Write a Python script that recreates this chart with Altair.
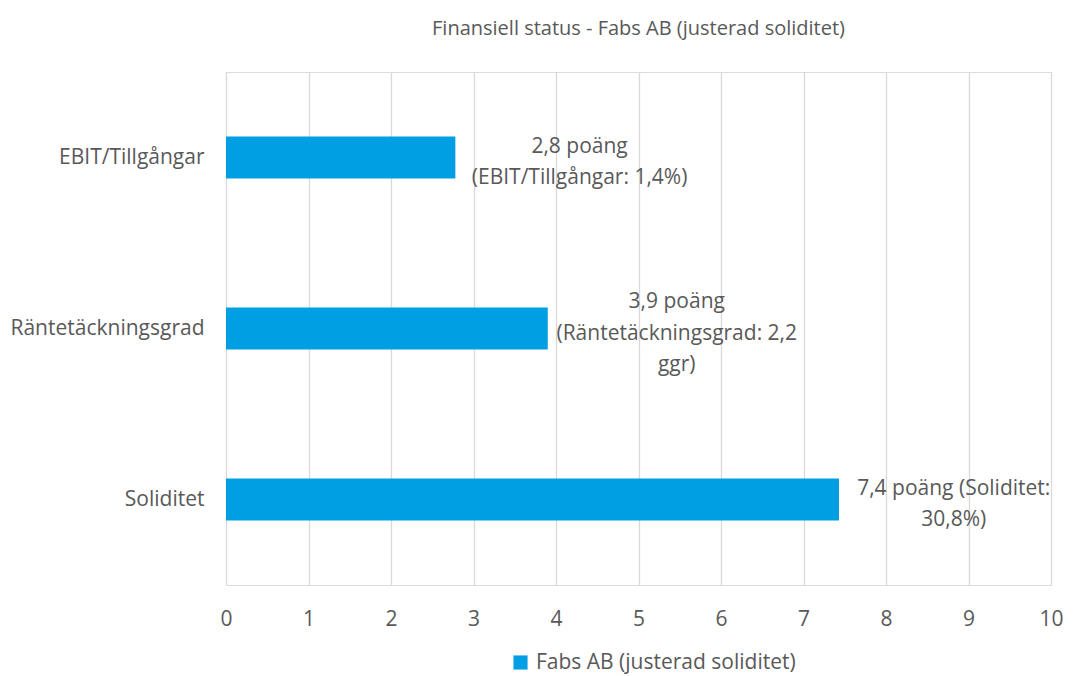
import altair as alt
import pandas as pd

categories = ["EBIT/Tillgångar", "Räntetäckningsgrad", "Soliditet"]
values = [2.78, 3.9, 7.43]
labels = [
    "2,8 poäng\n(EBIT/Tillgångar: 1,4%)",
    "3,9 poäng\n(Räntetäckningsgrad: 2,2\nggr)",
    "7,4 poäng (Soliditet:\n30,8%)",
]
series_name = "Fabs AB (justerad soliditet)"
title_text = "Finansiell status - Fabs AB (justerad soliditet)"

df = pd.DataFrame({
    "kategori": categories,
    "poang": values,
    "etikett": labels,
    "serie": [series_name] * len(categories),
    "maxlen": [max(len(s) for s in l.split("\n")) for l in labels],
    "nlines": [len(l.split("\n")) for l in labels],
})

FONT = "Open Sans"
GRAY = "#595959"
BLUE = "#009FE3"
FS = 21

y_enc = alt.Y(
    "kategori:N",
    sort=categories,
    scale=alt.Scale(paddingInner=0.754, paddingOuter=0.377),
    axis=alt.Axis(title=None, domain=False, ticks=False, tickSize=0, labelPadding=22,
                  labelFontSize=FS, labelColor=GRAY, labelFont=FONT, grid=False,
                  labelLimit=400),
)
x_enc = alt.X(
    "poang:Q",
    scale=alt.Scale(domain=[0, 10], nice=False),
    axis=alt.Axis(title=None, domain=False, ticks=False, tickSize=0, labelPadding=23,
                  values=list(range(0, 11)), format="d", labelFontSize=FS,
                  labelFlush=False, labelColor=GRAY, labelFont=FONT, grid=True,
                  gridColor="#D9D9D9", gridWidth=1.3),
)

bars = alt.Chart(df).mark_bar(color=BLUE).encode(
    x=x_enc,
    y=y_enc,
    color=alt.Color(
        "serie:N",
        scale=alt.Scale(range=[BLUE]),
        legend=alt.Legend(title=None, orient="none", legendX=284, legendY=580,
                          symbolType="square", symbolSize=200, symbolStrokeWidth=0,
                          labelFontSize=FS, labelColor=GRAY, labelFont=FONT,
                          labelOffset=5, labelLimit=500),
    ),
)

text = alt.Chart(df).mark_text(
    align="center", baseline="middle", lineBreak="\n", lineHeight=31.5,
    fontSize=FS, font=FONT, color=GRAY,
    dx=alt.expr("15 + datum.maxlen * 4.75"),
    dy=alt.expr("5 - (datum.nlines - 1) * 15.75"),
).encode(
    x="poang:Q",
    y=alt.Y("kategori:N", sort=categories),
    text="etikett:N",
)

chart = (bars + text).properties(
    width=825,
    height=513,
    title=alt.Title(title_text, fontSize=20, font=FONT, color=GRAY, fontWeight="normal",
                    anchor="middle", offset=33),
    autosize=alt.AutoSizeParams(type="none"),
    padding={"left": 218, "top": 64, "right": 14, "bottom": 90},
).configure_view(stroke=None).configure(background="white")

chart.save("out.html", embed_options={"renderer": "svg", "actions": False})
